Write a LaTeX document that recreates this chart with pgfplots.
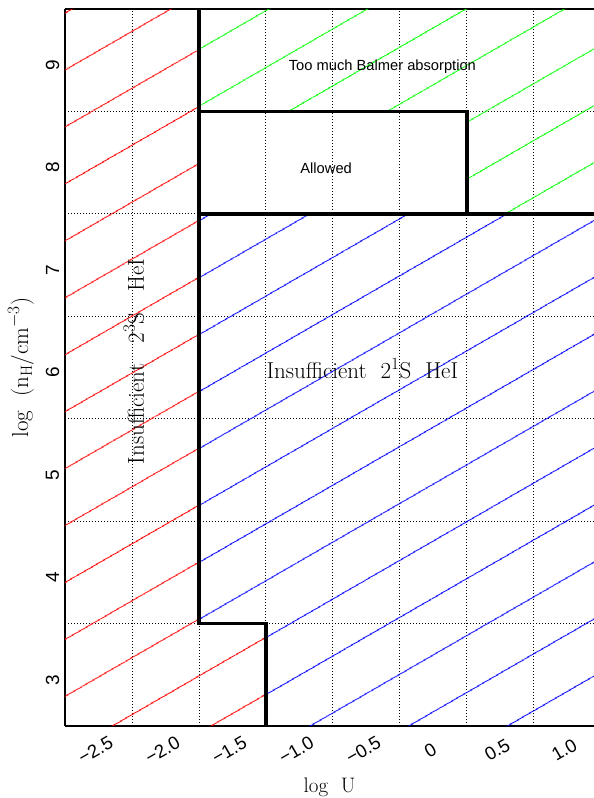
\documentclass[border=0pt]{standalone}
\usepackage{fontspec}
\usepackage{pgfplots}
\pgfplotsset{compat=1.18}
\usetikzlibrary{patterns.meta}
\newfontfamily\sansf{Liberation Sans}
\definecolor{hred}{RGB}{255,0,0}
\definecolor{hblue}{RGB}{0,0,255}
\definecolor{hgreen}{RGB}{0,255,0}
\tikzset{hatch/.style={draw=none, pattern={Lines[angle=30, distance=49.4pt, line width=1.1pt, yshift=7.6pt]}}}
\begin{document}
\begin{tikzpicture}
\begin{axis}[
  scale only axis, width=529pt, height=717pt,
  at={(0pt,0pt)}, anchor=south west,
  xmin=-2.75, xmax=1.2, ymin=2.5, ymax=9.5,
  axis x line=box, axis y line=left,
  axis line style={-, line width=1.6pt},
  xtick={-2.5,-2.0,-1.5,-1.0,-0.5,0,0.5,1.0},
  xticklabels={−2.5,−2.0,−1.5,−1.0,−0.5,0,0.5,1.0},
  minor xtick={-2.25,-1.75,-1.25,-0.75,-0.25,0.25,0.75},
  ytick={3,4,5,6,7,8,9},
  yticklabels={3,4,5,6,7,8,9},
  minor ytick={3.5,4.5,5.5,6.5,7.5,8.5},
  major tick length=0pt, minor tick length=0pt,
  xminorgrids=true, yminorgrids=true,
  xmajorgrids=false, ymajorgrids=false,
  minor grid style={black, line width=0.8pt, dash pattern=on 0.8pt off 2.2pt},
  xticklabel style={font=\sansf\fontsize{18.5}{22}\selectfont, xshift=-3pt, yshift=-24pt, rotate=30, anchor=center},
  yticklabel style={font=\sansf\fontsize{19}{22}\selectfont, xshift=-12.5pt, yshift=-5pt, rotate=90, anchor=center},
  xlabel={log\ \ U},
  ylabel={log\ \ (n$_{\mathrm{H}}$/cm$^{-3}$)},
  xlabel style={at={(axis description cs:0.5,-0.0851)}, anchor=center, font=\fontsize{21}{25}\selectfont},
  ylabel style={at={(axis description cs:-0.0832,0.5)}, anchor=center, font=\fontsize{23}{27}\selectfont},
]
% hatched regions
\addplot[hatch, pattern color=hred] coordinates {(-2.75,2.5) (-1.25,2.5) (-1.25,3.5) (-1.75,3.5) (-1.75,9.5) (-2.75,9.5)} -- cycle;
\addplot[hatch, pattern color=hblue] coordinates {(-1.25,2.5) (1.2,2.5) (1.2,7.5) (-1.75,7.5) (-1.75,3.5) (-1.25,3.5)} -- cycle;
\addplot[hatch, pattern color=hgreen] coordinates {(-1.75,8.5) (0.25,8.5) (0.25,7.5) (1.2,7.5) (1.2,9.5) (-1.75,9.5)} -- cycle;
% boundaries
\addplot[black, line width=3.8pt] coordinates {(-1.75,9.5) (-1.75,3.5) (-1.25,3.5) (-1.25,2.5)};
\addplot[black, line width=3.8pt] coordinates {(-1.75,7.5) (1.2,7.5)};
\addplot[black, line width=3.8pt] coordinates {(-1.75,8.5) (0.25,8.5) (0.25,7.5)};
% labels
\node[font=\sansf\fontsize{14.7}{17}\selectfont] at (axis cs:-0.38,8.94) {Too much Balmer absorption};
\node[font=\sansf\fontsize{14.7}{17}\selectfont] at (axis cs:-0.80,7.95) {Allowed};
\node[font=\fontsize{23}{27}\selectfont] at (axis cs:-0.53,5.99) {Insufficient\ \ 2$^{1}$S\ \ HeI};
\node[font=\fontsize{23}{27}\selectfont, rotate=90] at (axis cs:-2.235,6.06) {Insufficient\ \ \ 2$^{3}$S\ \ \ HeI};
\end{axis}
\pgfresetboundingbox
\path[use as bounding box] (-65pt,-72pt) rectangle (529pt,726pt);
\end{tikzpicture}
\end{document}
